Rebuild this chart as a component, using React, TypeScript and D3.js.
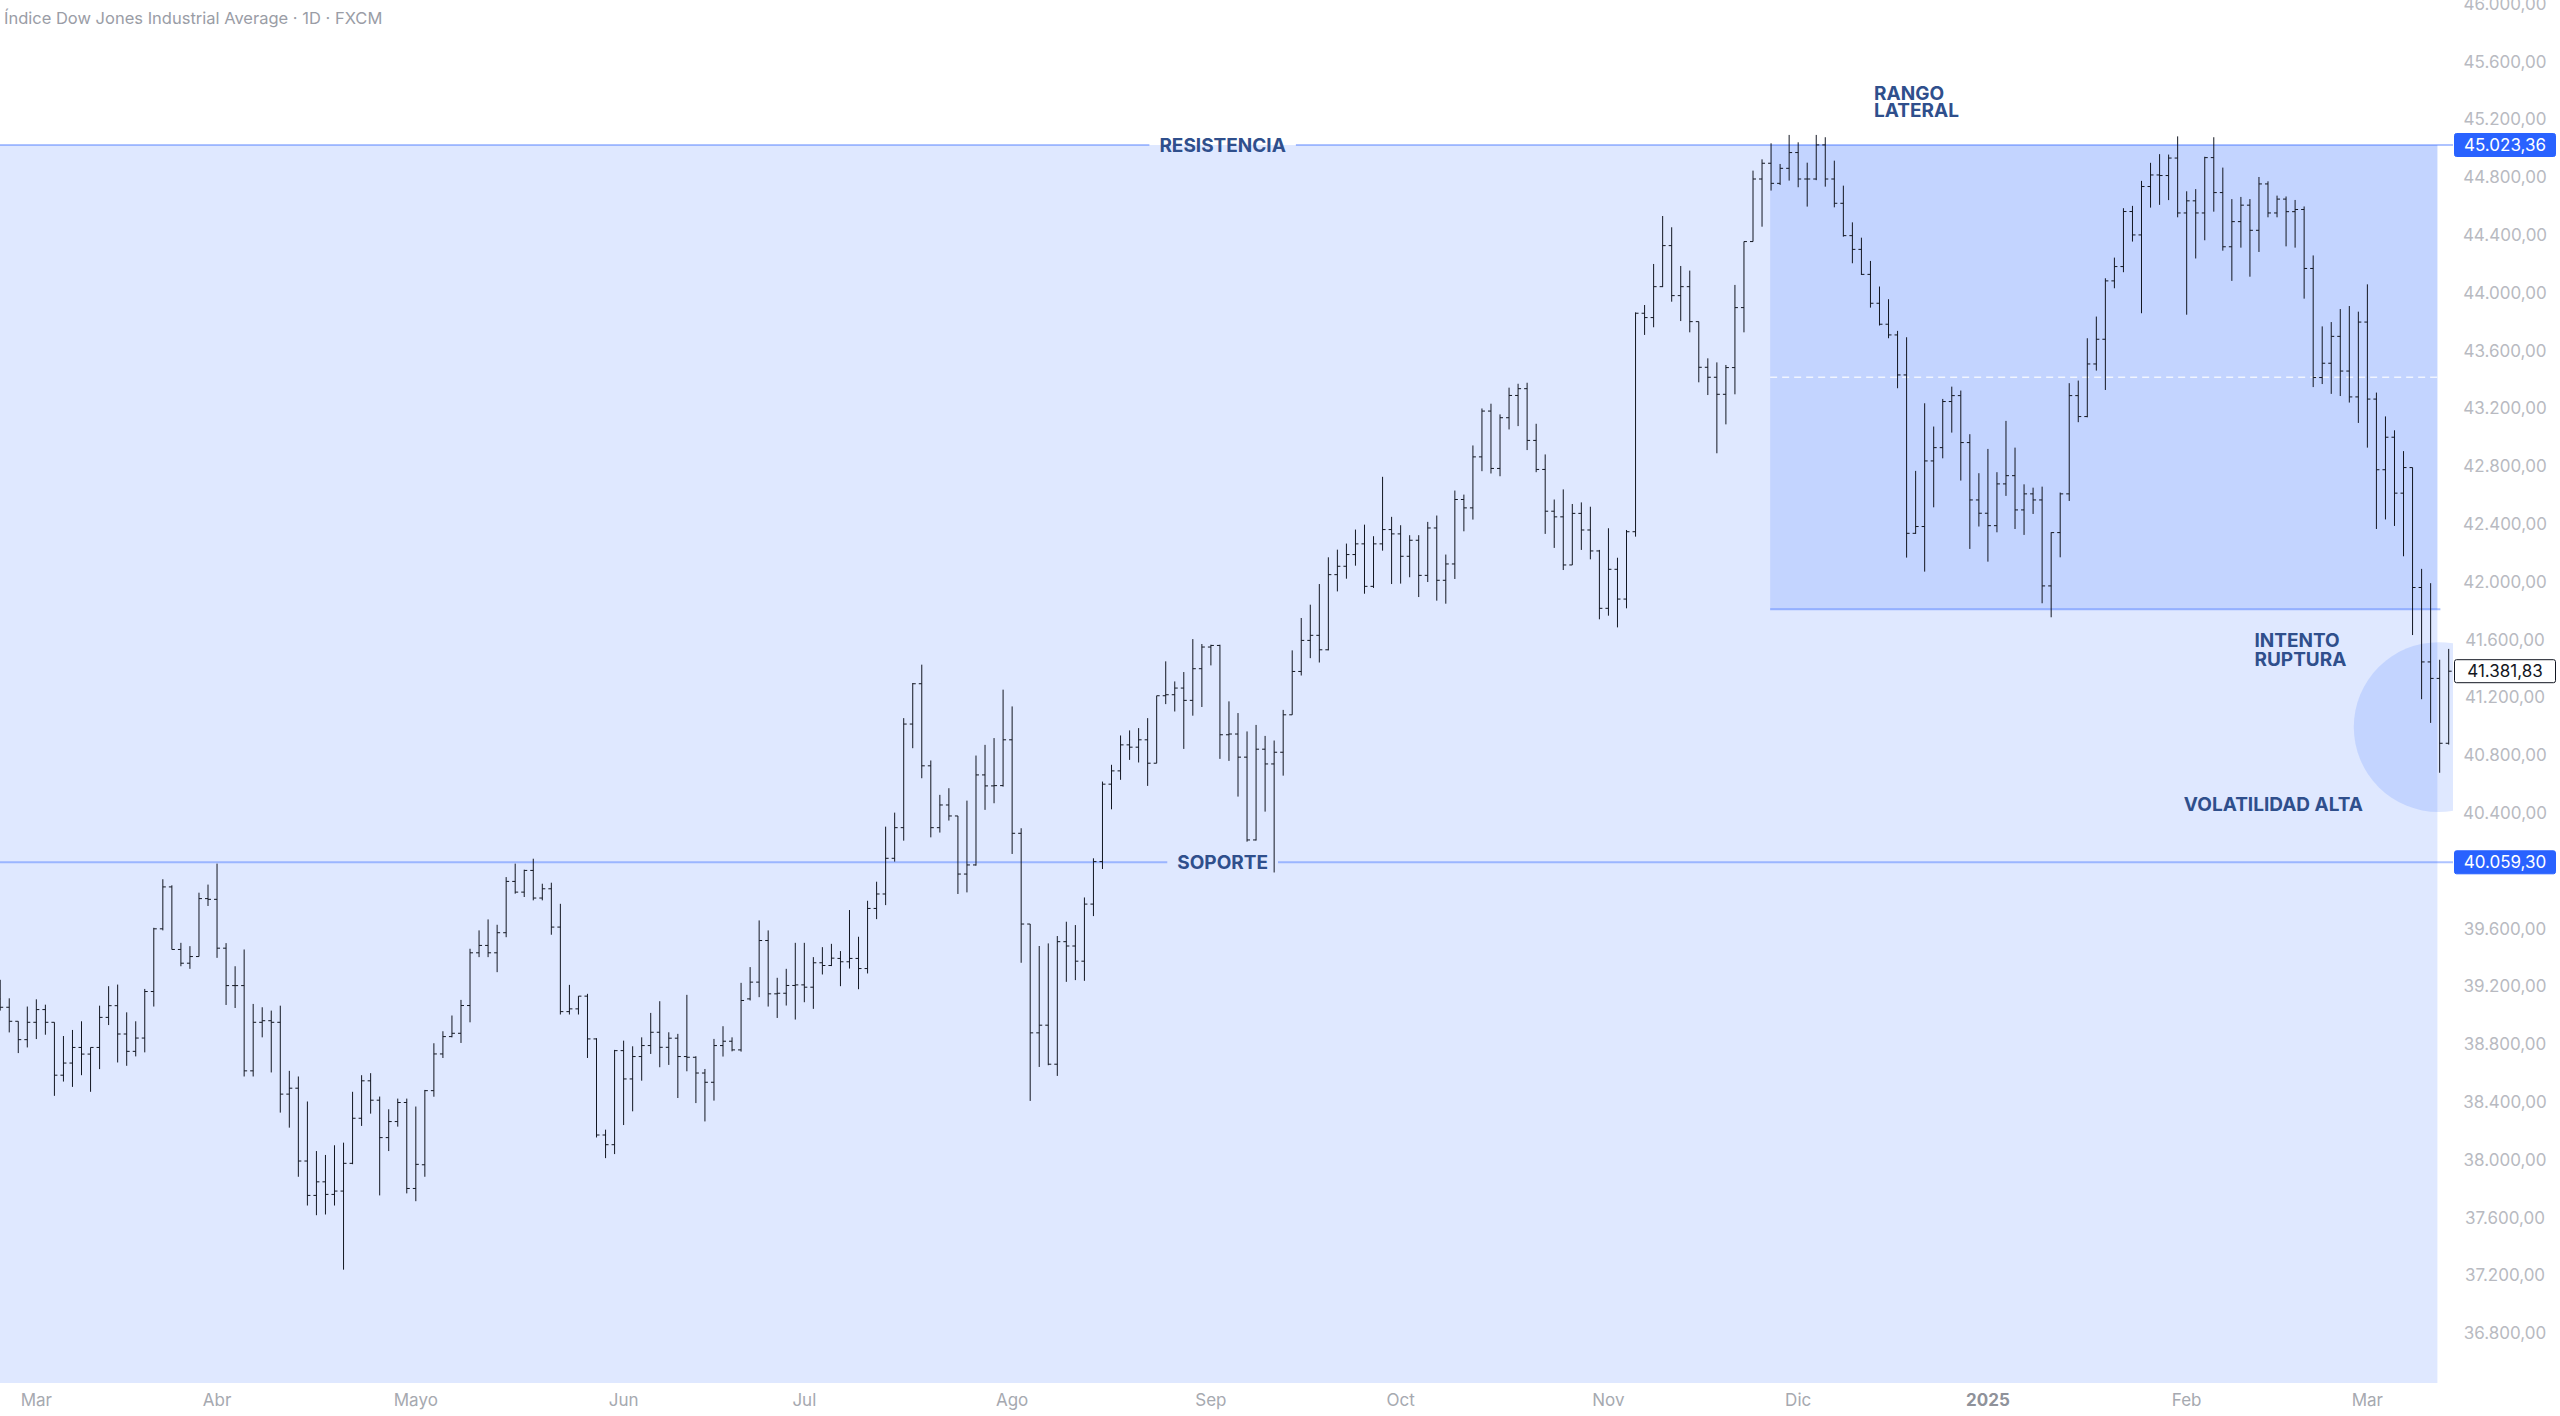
import React, { useEffect, useRef } from "react";
import * as d3 from "d3";

// OHLC, one value per daily bar (Feb 26 2024 -> Mar 14 2025)
const barOpen = [
  39114, 39056, 38959, 38832, 38952, 39040, 38952, 38586, 38670, 38778, 38732, 38778, 38986, 39067, 38871, 38751, 38843, 39165, 39599, 39889,
  39456, 39361, 39407, 39808, 39803, 39465, 39206, 39206, 38616, 38952, 38963, 38952, 38455, 38496, 37992, 37754, 37848, 37761, 37784, 37976,
  38288, 38547, 38413, 38154, 38265, 38397, 37802,
  37966, 38479, 38733, 38853, 38876, 39068, 39433, 39484, 39433, 39572, 39927, 39853, 40003, 39812, 39876, 39611, 39026, 39045, 39133, 38837,
  38172, 38105, 38756, 38560, 38715, 38791, 38883, 38779, 38842, 38715, 38710, 38601, 38537, 38791, 38821, 38761, 39114, 39230, 39518, 39149,
  39153, 39207, 39211, 39195, 39364, 39345,
  39394, 39371, 39394, 39324, 39740, 39840, 40087, 40299, 41016, 41295, 40727, 40299, 40456, 40380, 39978, 40041, 40664, 40588, 40590, 40907,
  40260, 39632, 38879, 38932, 38662, 39510, 39480, 39375, 39770, 40064, 40600, 40692, 40872, 40856, 40907, 40745, 41212, 41219, 41265, 41180,
  41399, 41549, 41560, 40942, 40947, 40787,
  40214, 40842, 40740, 40821, 41080, 41380, 41595, 41630, 41530, 42050, 42108, 42189, 42263, 41969, 42263, 42362, 42332, 42177, 42288, 42045,
  42373, 42011, 42124, 42570, 42512, 42865, 43182, 42785, 43136, 43290, 43337, 42979, 42778, 42489,
  42450, 42117, 42474, 42359, 42214, 41817, 42087, 41881, 42347, 43859, 43829, 44043, 44327, 43981, 44043, 43801, 43485, 43416, 43298, 43483,
  43898, 44355, 44788, 44897, 44758, 44862, 44971, 44788, 44788, 45024, 44788, 44620, 44396, 44301,
  44128, 43928, 43783, 43709, 43432, 42336, 42383, 42837, 42929, 43248, 43289, 42964, 42567, 42475, 42389, 42678, 42735, 42498, 42609, 42567,
  41972, 42341, 42609, 43289, 43144, 43508, 43679, 44083, 44182, 44563, 44401,
  44736, 44816, 44812, 44933, 44553, 44637, 44553, 44936, 44694, 44319, 44493, 44607, 44433, 44754, 44553, 44649, 44562, 44577, 44169, 43414,
  43513, 43699, 43459, 43280, 43798, 43265, 42776, 43001, 42614, 42791, 41961, 41446, 41332, 40883,
];

const barHigh = [
  39246, 39118, 38959, 39061, 39111, 39074, 38952, 38857, 38899, 38959, 38778, 39067, 39202, 39213, 39021, 38959, 39183, 39606, 39942, 39900,
  39502, 39479, 39849, 39905, 40050, 39500, 39340, 39456, 39079, 39056, 39033, 39067, 38616, 38577, 38404, 38061, 38034, 38101, 38119, 38471,
  38586, 38600, 38438, 38350, 38424, 38424, 38369,
  38484, 38807, 38890, 38999, 39107, 39461, 39588, 39664, 39627, 39957, 40050, 40008, 40084, 39911, 39918, 39772, 39211, 39133, 39149, 38842,
  38209, 38761, 38825, 38786, 38848, 39017, 39098, 38883, 38872, 39142, 38717, 38629, 38837, 38925, 38848, 39225, 39334, 39657, 39588, 39260,
  39322, 39502, 39502, 39403, 39472, 39495,
  39445, 39729, 39544, 39793, 39925, 40306, 40403, 41057, 41300, 41427, 40764, 40526, 40572, 40380, 40486, 40798, 40872, 40919, 41254, 41138,
  40295, 39632, 39480, 39498, 39549, 39648, 39625, 39816, 40087, 40618, 40734, 40937, 40972, 40988, 41057, 41212, 41450, 41311, 41376, 41604,
  41570, 41565, 41565, 41173, 41092, 40965,
  41010, 40934, 40902, 41114, 41526, 41750, 41842, 41985, 42170, 42223, 42265, 42362, 42396, 42316, 42727, 42450, 42392, 42323, 42323, 42415,
  42459, 42189, 42632, 42604, 42944, 43200, 43233, 43159, 43344, 43371, 43378, 43094, 42882, 42570,
  42640, 42539, 42550, 42520, 42221, 42371, 42167, 42359, 43865, 43916, 44200, 44532, 44454, 44186, 44154, 43801, 43547, 43519, 43501, 44055,
  44355, 44846, 44924, 45035, 44892, 45093, 45042, 44901, 45093, 45077, 44915, 44742, 44488, 44382,
  44221, 44044, 43956, 43737, 43693, 42768, 43236, 43075, 43266, 43351, 43324, 43022, 42752, 42920, 42759, 43114, 42929, 42675, 42652, 42659,
  42343, 42618, 43375, 43393, 43686, 43836, 44101, 44244, 44586, 44602, 44775,
  44900, 44960, 44957, 45083, 44703, 44718, 44942, 45077, 44867, 44649, 44664, 44649, 44802, 44772, 44673, 44667, 44643, 44598, 44259, 43768,
  43798, 43888, 43909, 43870, 44059, 43310, 43145, 43049, 42905, 42791, 42090, 41991, 41461, 41536,
];

const barLow = [
  39033, 38882, 38739, 38778, 38836, 38866, 38443, 38542, 38505, 38586, 38471, 38628, 38933, 38674, 38651, 38716, 38744, 39061, 39588, 39456,
  39340, 39322, 39407, 39757, 39398, 39072, 39051, 38577, 38577, 38848, 38605, 38327, 38223, 37883, 37684, 37617, 37622, 37684, 37240, 37970,
  38235, 38320, 37754, 38061, 38230, 37768, 37714,
  37883, 38437, 38705, 38848, 38809, 38952, 39403, 39403, 39299, 39541, 39842, 39819, 39796, 39796, 39558, 39006, 39006, 39006, 38705, 38155,
  38012, 38040, 38241, 38336, 38548, 38733, 38641, 38657, 38428, 38613, 38393, 38266, 38410, 38715, 38751, 38749, 39103, 39126, 39061, 38982,
  39068, 38971, 39091, 39045, 39283, 39341,
  39202, 39324, 39181, 39290, 39666, 39763, 40064, 40209, 40849, 40641, 40232, 40265, 40348, 39840, 39851, 40036, 40422, 40468, 40583, 40117,
  39364, 38408, 38643, 38655, 38581, 39232, 39244, 39239, 39687, 40013, 40426, 40630, 40768, 40750, 40588, 40745, 41154, 41103, 40844, 41074,
  41134, 41422, 40775, 40761, 40514, 40202,
  40210, 40410, 39989, 40659, 41080, 41352, 41472, 41442, 41526, 41934, 42022, 42112, 41918, 41958, 42216, 41985, 41988, 42032, 41895, 41999,
  41870, 41849, 42020, 42350, 42431, 42766, 42750, 42731, 43055, 43078, 42912, 42759, 42332, 42235,
  42082, 42117, 42221, 42156, 41741, 41766, 41685, 41817, 42313, 43709, 43762, 44040, 43939, 43805, 43727, 43381, 43293, 42890, 43090, 43298,
  43727, 44355, 44458, 44708, 44747, 44777, 44731, 44597, 44780, 44735, 44592, 44389, 44205, 44124,
  43898, 43774, 43686, 43340, 42168, 42332, 42071, 42516, 42855, 43033, 42701, 42228, 42383, 42140, 42343, 42595, 42366, 42325, 42470, 41852,
  41755, 42170, 42560, 43105, 43139, 43462, 43328, 44032, 44143, 44355, 43859,
  44590, 44609, 44642, 44523, 43849, 44238, 44364, 44562, 44292, 44083, 44313, 44112, 44283, 44523, 44523, 44322, 44313, 43960, 43348, 43369,
  43301, 43286, 43241, 43100, 42929, 42366, 42432, 42387, 42177, 41632, 41188, 41024, 40679, 40874,
];

const barClose = [
  39056, 38959, 38832, 38952, 39040, 38952, 38586, 38670, 38778, 38732, 38778, 38986, 39067, 38871, 38751, 38843, 39165, 39599, 39889, 39456,
  39361, 39407, 39808, 39803, 39465, 39206, 39206, 38616, 38952, 38963, 38952, 38455, 38496, 37992, 37754, 37848, 37761, 37784, 37976, 38288,
  38547, 38413, 38154, 38265, 38397, 37802, 37969,
  38479, 38733, 38853, 38876, 39068, 39433, 39484, 39433, 39572, 39927, 39853, 40003, 39812, 39876, 39611, 39026, 39045, 39133, 38837, 38172,
  38105, 38756, 38560, 38715, 38791, 38883, 38779, 38842, 38715, 38710, 38601, 38537, 38791, 38821, 38761, 39103, 39230, 39518, 39149, 39153,
  39207, 39211, 39195, 39364, 39345, 39396,
  39371, 39394, 39324, 39740, 39840, 40087, 40299, 41016, 41295, 40727, 40299, 40456, 40380, 39978, 40041, 40664, 40588, 40590, 40907, 40260,
  39632, 38879, 38932, 38662, 39510, 39480, 39375, 39770, 40064, 40600, 40692, 40872, 40856, 40907, 40745, 41212, 41219, 41265, 41180, 41399,
  41549, 41560, 40942, 40947, 40787, 40214,
  40842, 40740, 40821, 41080, 41380, 41595, 41630, 41530, 42050, 42108, 42189, 42263, 41969, 42263, 42362, 42332, 42177, 42288, 42045, 42373,
  42011, 42124, 42570, 42512, 42865, 43182, 42785, 43136, 43290, 43337, 42979, 42778, 42489, 42450,
  42117, 42474, 42359, 42214, 41817, 42087, 41881, 42347, 43859, 43829, 44043, 44327, 43981, 44043, 43801, 43485, 43416, 43298, 43483, 43898,
  44355, 44788, 44897, 44758, 44862, 44971, 44788, 44788, 45024, 44788, 44620, 44396, 44301, 44128,
  43928, 43783, 43709, 43432, 42336, 42383, 42837, 42929, 43248, 43289, 42964, 42567, 42475, 42389, 42678, 42735, 42498, 42609, 42567, 41972,
  42341, 42609, 43289, 43144, 43508, 43679, 44083, 44182, 44563, 44401, 44736,
  44816, 44812, 44933, 44553, 44637, 44553, 44936, 44694, 44319, 44493, 44607, 44433, 44754, 44553, 44649, 44562, 44577, 44169, 43414, 43513,
  43699, 43459, 43280, 43798, 43265, 42776, 43001, 42614, 42791, 41961, 41446, 41332, 40883, 41381.83,
];

// calendar: weekdays from the first bar, minus the sessions the feed skipped
const firstBarDate = new Date(2024, 1, 26);
const skippedDays = ["2024-03-29", "2024-12-25", "2025-01-01"];
const monthNames = ["Ene", "Feb", "Mar", "Abr", "Mayo", "Jun", "Jul", "Ago", "Sep", "Oct", "Nov", "Dic"];

const priceTicks = d3.range(36800, 46001, 400);
const resistance = 45023.36;
const support = 40059.3;
const rangeLow = 41810;
const lastPrice = 41381.83;

// drawings anchored by bar index / price
const rangeStartIdx = 195.9;
const drawingsEndIdx = 269.75;
const circleCenter = { idx: 269.9, price: 40995, radius: 588 };
const noteText = ["RANGO", "LATERAL", "INTENTO", "RUPTURA", "VOLATILIDAD ALTA"];
const noteIdx = [207.4, 207.4, 249.5, 249.5, 251.6];
const notePrice = [45383, 45259, 41591, 41460, 40457];
const noteAnchor = ["start", "start", "start", "start", "middle"];
const levelLabelIdx = 135.3;

function tradingDays(n: number): Date[] {
  const fmt = d3.timeFormat("%Y-%m-%d");
  const out: Date[] = [];
  const d = new Date(firstBarDate);
  while (out.length < n) {
    const wd = d.getDay();
    if (wd !== 0 && wd !== 6 && !skippedDays.includes(fmt(d))) out.push(new Date(d));
    d.setDate(d.getDate() + 1);
  }
  return out;
}

const App: React.FC = () => {
  const svgRef = useRef<SVGSVGElement>(null);

  useEffect(() => {
    if (!svgRef.current) return;
    const W = 2560;
    const H = 1416;
    const plotRight = 2453;
    const plotBottom = 1383;
    const font = "Inter, Roboto, 'Noto Sans', sans-serif";
    const navy = "#2f4f8c";
    const fillBlue = "rgba(41, 98, 255, 0.15)";
    const lineBlue = "rgba(41, 98, 255, 0.38)";

    const svg = d3.select(svgRef.current).attr("width", W).attr("height", H);
    svg.selectAll("*").remove();

    const n = barClose.length;
    const dates = tradingDays(n);

    const x = d3.scaleLinear().domain([0, n - 1]).range([0.2, 2448.7]);
    const y = d3.scaleLinear().domain([support, resistance]).range([862.3, 145]);

    const locale = d3.formatLocale({ decimal: ",", thousands: ".", grouping: [3], currency: ["", ""] });
    const fmtPrice = locale.format(",.2f");

    svg.append("rect").attr("width", W).attr("height", H).attr("fill", "#ffffff");

    svg.append("defs").append("clipPath").attr("id", "plot-clip")
      .append("rect").attr("x", 0).attr("y", 0).attr("width", plotRight).attr("height", plotBottom);

    const plot = svg.append("g").attr("clip-path", "url(#plot-clip)");

    // big zone under the resistance
    plot.append("rect")
      .attr("x", x(-10))
      .attr("y", y(resistance))
      .attr("width", x(drawingsEndIdx) - x(-10))
      .attr("height", plotBottom - y(resistance))
      .attr("fill", fillBlue);

    // lateral range box
    plot.append("rect")
      .attr("x", x(rangeStartIdx))
      .attr("y", y(resistance))
      .attr("width", x(drawingsEndIdx) - x(rangeStartIdx))
      .attr("height", y(rangeLow) - y(resistance))
      .attr("fill", fillBlue);

    plot.append("line")
      .attr("x1", x(rangeStartIdx)).attr("x2", x(drawingsEndIdx))
      .attr("y1", y((resistance + rangeLow) / 2)).attr("y2", y((resistance + rangeLow) / 2))
      .attr("stroke", "rgba(255,255,255,0.75)")
      .attr("stroke-width", 1.5)
      .attr("stroke-dasharray", "7 5");

    plot.append("line")
      .attr("x1", x(rangeStartIdx)).attr("x2", x(drawingsEndIdx) + 3)
      .attr("y1", y(rangeLow)).attr("y2", y(rangeLow))
      .attr("stroke", lineBlue)
      .attr("stroke-width", 2);

    // volatility circle
    plot.append("circle")
      .attr("cx", x(circleCenter.idx))
      .attr("cy", y(circleCenter.price))
      .attr("r", y(circleCenter.price - circleCenter.radius) - y(circleCenter.price))
      .attr("fill", fillBlue);

    // horizontal levels with a gap for their label
    const levels = [
      { price: resistance, label: "RESISTENCIA" },
      { price: support, label: "SOPORTE" },
    ];
    levels.forEach((lv) => {
      const t = svg.append("text")
        .attr("x", x(levelLabelIdx))
        .attr("y", y(lv.price))
        .attr("text-anchor", "middle")
        .attr("dominant-baseline", "central")
        .attr("font-family", font)
        .attr("font-size", 19)
        .attr("font-weight", 700)
        .attr("fill", navy)
        .text(lv.label);
      const bb = (t.node() as SVGTextElement).getBBox();
      const gap = 10;
      plot.insert("line", ":first-child")
        .attr("x1", 0).attr("x2", bb.x - gap)
        .attr("y1", y(lv.price)).attr("y2", y(lv.price))
        .attr("stroke", lineBlue).attr("stroke-width", 2);
      plot.insert("line", ":first-child")
        .attr("x1", bb.x + bb.width + gap).attr("x2", plotRight)
        .attr("y1", y(lv.price)).attr("y2", y(lv.price))
        .attr("stroke", lineBlue).attr("stroke-width", 2);
    });
    // keep fills underneath the level lines
    plot.selectAll("line").raise();

    // OHLC bars
    const tick = 3;
    plot.append("g")
      .selectAll("path")
      .data(d3.range(n))
      .join("path")
      .attr("d", (i) => {
        const cx = x(i);
        return `M${cx},${y(barHigh[i])}V${y(barLow[i])}` +
          `M${cx - tick},${y(barOpen[i])}H${cx}` +
          `M${cx},${y(barClose[i])}H${cx + tick}`;
      })
      .attr("fill", "none")
      .attr("stroke", "#131722")
      .attr("stroke-width", 1);

    // free text notes
    svg.append("g")
      .selectAll("text")
      .data(noteText)
      .join("text")
      .attr("x", (_, i) => x(noteIdx[i]))
      .attr("y", (_, i) => y(notePrice[i]))
      .attr("text-anchor", (_, i) => noteAnchor[i])
      .attr("dominant-baseline", "central")
      .attr("font-family", font)
      .attr("font-size", 19)
      .attr("font-weight", 700)
      .attr("fill", navy)
      .text((d) => d);

    // level labels raised above everything
    svg.selectAll("text").raise();

    // price scale; a tick that collides with a price tag is hidden, as on the platform
    const axisX = 2505;
    const tags = [
      { price: resistance, bg: "#2962ff", fg: "#ffffff", border: "#2962ff" },
      { price: support, bg: "#2962ff", fg: "#ffffff", border: "#2962ff" },
      { price: lastPrice, bg: "#ffffff", fg: "#131722", border: "#131722" },
    ];
    const visibleTicks = priceTicks.filter((p) => tags.every((t) => Math.abs(y(p) - y(t.price)) > 20));
    svg.append("g")
      .selectAll("text")
      .data(visibleTicks)
      .join("text")
      .attr("x", axisX)
      .attr("y", (d) => y(d))
      .attr("text-anchor", "middle")
      .attr("dominant-baseline", "central")
      .attr("font-family", font)
      .attr("font-size", 17)
      .attr("fill", "#b8bac1")
      .text((d) => fmtPrice(d));

    const tagG = svg.append("g");
    tags.forEach((t) => {
      tagG.append("rect")
        .attr("x", 2454.5)
        .attr("y", y(t.price) - 11.5)
        .attr("width", 101)
        .attr("height", 23)
        .attr("rx", 2)
        .attr("fill", t.bg)
        .attr("stroke", t.border)
        .attr("stroke-width", 1);
      tagG.append("text")
        .attr("x", axisX)
        .attr("y", y(t.price))
        .attr("text-anchor", "middle")
        .attr("dominant-baseline", "central")
        .attr("font-family", font)
        .attr("font-size", 17)
        .attr("fill", t.fg)
        .text(fmtPrice(t.price));
    });

    // time scale: first bar of every month
    const monthStarts = d3.range(1, n).filter((i) => dates[i].getMonth() !== dates[i - 1].getMonth());
    svg.append("g")
      .selectAll("text")
      .data(monthStarts)
      .join("text")
      .attr("x", (i) => x(i))
      .attr("y", 1400)
      .attr("text-anchor", "middle")
      .attr("dominant-baseline", "central")
      .attr("font-family", font)
      .attr("font-size", 17)
      .attr("font-weight", (i) => (dates[i].getMonth() === 0 ? 700 : 400))
      .attr("fill", (i) => (dates[i].getMonth() === 0 ? "#8f929a" : "#a6a9b0"))
      .text((i) => (dates[i].getMonth() === 0 ? String(dates[i].getFullYear()) : monthNames[dates[i].getMonth()]));

    // title
    svg.append("text")
      .attr("x", 4)
      .attr("y", 18)
      .attr("dominant-baseline", "central")
      .attr("font-family", font)
      .attr("font-size", 16.5)
      .attr("fill", "#9a9da6")
      .text("Índice Dow Jones Industrial Average · 1D · FXCM");
  }, []);

  return (
    <svg
      ref={svgRef}
      style={{ position: "absolute", left: 0, top: 0, display: "block" }}
    ></svg>
  );
};

export default App;
